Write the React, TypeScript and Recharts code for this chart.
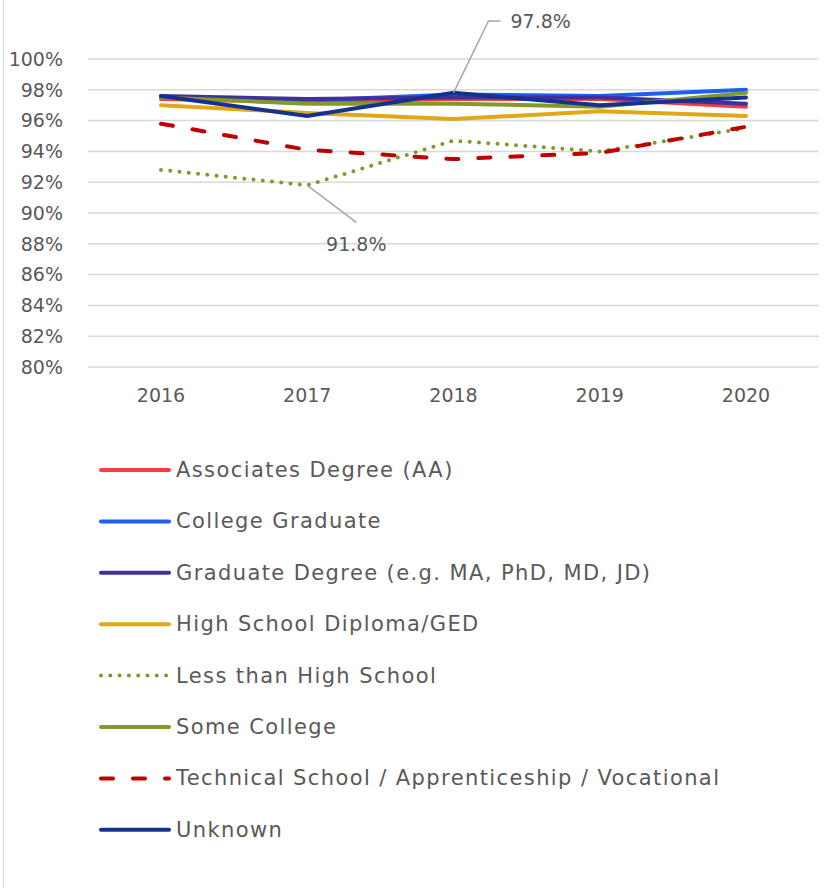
import { LineChart, Line, XAxis, YAxis, CartesianGrid, Legend, LabelList } from 'recharts';

const years = ['2016', '2017', '2018', '2019', '2020'];
const associates = [97.4, 97.2, 97.4, 97.4, 96.9];
const collegeGrad = [97.5, 97.3, 97.7, 97.6, 98.0];
const graduateDegree = [97.6, 97.4, 97.5, 97.5, 97.1];
const highSchool = [97.0, 96.5, 96.1, 96.6, 96.3];
const lessThanHS = [92.8, 91.8, 94.7, 94.0, 95.5];
const someCollege = [97.5, 97.1, 97.1, 96.9, 97.8];
const technical = [95.8, 94.1, 93.5, 93.9, 95.6];
const unknown = [97.6, 96.3, 97.8, 97.0, 97.5];
const yTicks = [80, 82, 84, 86, 88, 90, 92, 94, 96, 98, 100];

const series = [
  { key: 'aa', name: 'Associates Degree (AA)', color: '#ff3b3b', values: associates, dash: undefined },
  { key: 'cg', name: 'College Graduate', color: '#1f5ff0', values: collegeGrad, dash: undefined },
  { key: 'gd', name: 'Graduate Degree (e.g. MA, PhD, MD, JD)', color: '#40309a', values: graduateDegree, dash: undefined },
  { key: 'hs', name: 'High School Diploma/GED', color: '#e0a817', values: highSchool, dash: undefined },
  { key: 'lt', name: 'Less than High School', color: '#7c9a2a', values: lessThanHS, dash: 'dot' },
  { key: 'sc', name: 'Some College', color: '#839a2b', values: someCollege, dash: undefined },
  { key: 'tv', name: 'Technical School / Apprenticeship / Vocational', color: '#c00000', values: technical, dash: 'dash' },
  { key: 'un', name: 'Unknown', color: '#14318f', values: unknown, dash: undefined },
];

const data = years.map((year, i) => {
  const row: Record<string, string | number> = { year };
  series.forEach(s => { row[s.key] = s.values[i]; });
  return row;
});

const FONT = '"DejaVu Sans", sans-serif';
const TEXT = '#595959';

const dashProps = (dash?: string) => {
  if (dash === 'dot') return { strokeDasharray: '0 9.3', strokeLinecap: 'round' as const };
  if (dash === 'dash') return { strokeDasharray: '12 20', strokeLinecap: 'round' as const };
  return { strokeLinecap: 'round' as const };
};

// callout above the 2018 "Unknown" point
const peakLabel = (props: any) => {
  const { x, y, index, value } = props;
  if (index !== 2) return null;
  return (
    <g>
      <polyline points={`${x},${y} ${x + 35},${y - 72} ${x + 47},${y - 72}`} fill="none" stroke="#a6a6a6" strokeWidth={1.5} />
      <text x={x + 57} y={y - 72} dominantBaseline="central" fill={TEXT} fontSize={19} fontFamily={FONT}>
        {Number(value).toFixed(1)}%
      </text>
    </g>
  );
};

// callout below the 2017 "Less than High School" point
const lowLabel = (props: any) => {
  const { x, y, index, value } = props;
  if (index !== 1) return null;
  return (
    <g>
      <line x1={x} y1={y} x2={x + 49} y2={y + 37} stroke="#a6a6a6" strokeWidth={1.5} />
      <text x={x + 49} y={y + 59} textAnchor="middle" dominantBaseline="central" fill={TEXT} fontSize={19} fontFamily={FONT}>
        {Number(value).toFixed(1)}%
      </text>
    </g>
  );
};

const renderLegend = () => (
  <svg width={834} height={420}>
    {series.map((s, i) => {
      const cy = 30 + i * 51.4;
      return (
        <g key={s.key}>
          <line x1={101} x2={169} y1={cy} y2={cy} stroke={s.color} strokeWidth={4} {...dashProps(s.dash)} />
          <text x={176} y={cy} dominantBaseline="central" fill={TEXT} fontSize={21} letterSpacing={1.4} fontFamily={FONT}>
            {s.name}
          </text>
        </g>
      );
    })}
  </svg>
);

export default function App() {
  return (
    <div style={{ position: 'absolute', left: 0, top: 0, width: 834, height: 888, background: '#fff' }}>
      <div style={{ position: 'absolute', left: 3, top: 0, width: 0, height: 888, borderLeft: '1.5px solid #d9d9d9' }} />
      <LineChart width={834} height={888} data={data} margin={{ top: 59, right: 15, bottom: 0, left: 0 }}>
        <CartesianGrid vertical={false} stroke="#d9d9d9" strokeWidth={1.5} />
        <XAxis
          dataKey="year"
          height={521}
          axisLine={false}
          tickLine={false}
          padding={{ left: 73, right: 73 }}
          tickMargin={16}
          tick={{ fill: TEXT, fontSize: 19, fontFamily: FONT }}
        />
        <YAxis
          width={88}
          domain={[80, 100]}
          ticks={yTicks}
          axisLine={false}
          tickLine={false}
          tickMargin={19}
          tickFormatter={(v: number) => `${v}%`}
          tick={{ fill: TEXT, fontSize: 19, fontFamily: FONT }}
        />
        <Legend
          layout="vertical"
          align="center"
          verticalAlign="middle"
          content={renderLegend}
          wrapperStyle={{ left: 0, top: 440, width: 834, height: 420 }}
        />
        {series.map(s => (
          <Line
            key={s.key}
            dataKey={s.key}
            name={s.name}
            stroke={s.color}
            strokeWidth={4}
            dot={false}
            activeDot={false}
            isAnimationActive={false}
            {...dashProps(s.dash)}
          >
            {s.key === 'un' && <LabelList dataKey="un" content={peakLabel} />}
            {s.key === 'lt' && <LabelList dataKey="lt" content={lowLabel} />}
          </Line>
        ))}
      </LineChart>
    </div>
  );
}
